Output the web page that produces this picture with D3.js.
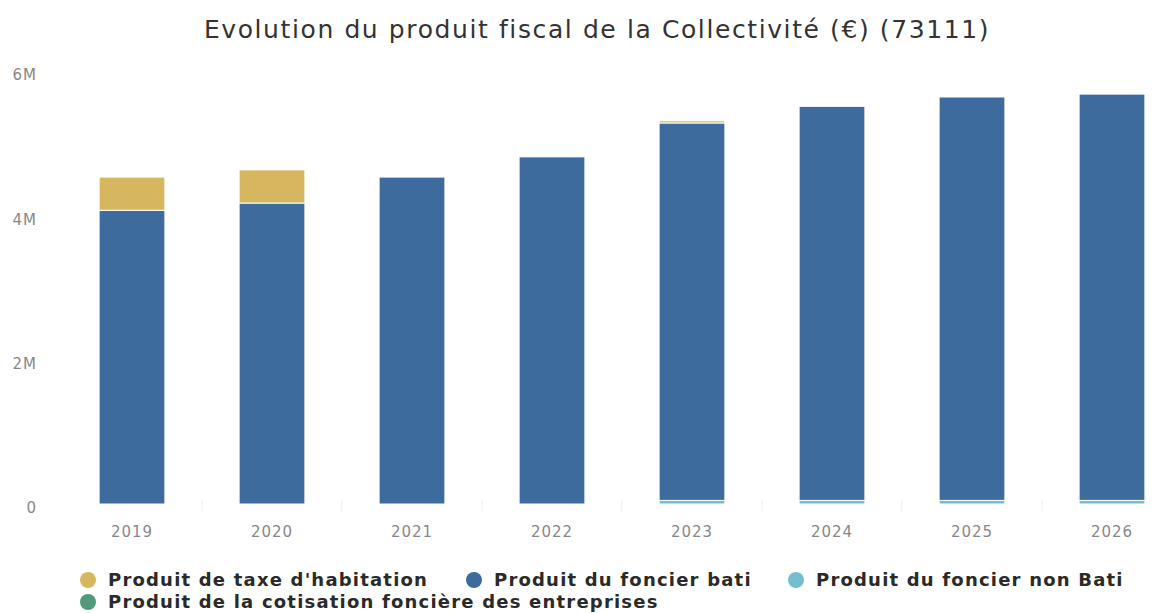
<!DOCTYPE html>
<html>
<head>
<meta charset="utf-8">
<script src="https://cdn.jsdelivr.net/npm/d3@7"></script>
<style>
	body { margin: 0; background: #fff; }
	svg { display: block; }
</style>
</head>
<body>
<svg id="chart" width="1173" height="613"></svg>
<script>
// data (values in M€)
const years = ["2019", "2020", "2021", "2022", "2023", "2024", "2025", "2026"];
const nonBati = [0, 0, 0, 0, 0.05, 0.05, 0.05, 0.05];
const bati = [4.07, 4.17, 4.53, 4.81, 5.23, 5.46, 5.59, 5.63];
const habitation = [0.46, 0.46, 0, 0, 0.03, 0, 0, 0];
const cfe = [0, 0, 0, 0, 0, 0, 0, 0];
const yTicks = [0, 2, 4, 6];

const seriesNames = ["Produit du foncier non Bati", "Produit du foncier bati", "Produit de taxe d'habitation", "Produit de la cotisation foncière des entreprises"];
const colors = {
	"Produit de taxe d'habitation": "#d6b65e",
	"Produit du foncier bati": "#3e6b9d",
	"Produit du foncier non Bati": "#74bfce",
	"Produit de la cotisation foncière des entreprises": "#4f9a7a"
};

let svg = d3.select('#chart');

let rows = years.map((y, i) => ({
	year: y,
	"Produit du foncier non Bati": nonBati[i],
	"Produit du foncier bati": bati[i],
	"Produit de taxe d'habitation": habitation[i],
	"Produit de la cotisation foncière des entreprises": cfe[i]
}));

let stack = d3.stack().keys(seriesNames);
let stacked = stack(rows);

let x = d3.scaleBand()
	.domain(years)
	.range([62, 1182])
	.paddingInner(0.53)
	.paddingOuter(0.265);

let y = d3.scaleLinear()
	.domain([0, 6])
	.range([504, 71]);

// title
svg.append('text')
	.attr('x', 597)
	.attr('y', 38)
	.attr('text-anchor', 'middle')
	.style('font-family', 'DejaVu Sans')
	.style('font-size', '25px')
	.style('letter-spacing', '1.6px')
	.style('fill', '#333')
	.text("Evolution du produit fiscal de la Collectivité (€) (73111)");

// faint ticks between categories
svg.append('g')
	.selectAll('line')
	.data(years.slice(1))
	.enter()
	.append('line')
	.attr('x1', d => x(d) - x.step() * 0.265)
	.attr('x2', d => x(d) - x.step() * 0.265)
	.attr('y1', 500)
	.attr('y2', 512)
	.style('stroke', '#f0f0f0');

// y axis labels
svg.append('g')
	.selectAll('text')
	.data(yTicks)
	.enter()
	.append('text')
	.attr('x', 37)
	.attr('y', d => y(d) + 4)
	.attr('dy', '0.35em')
	.attr('text-anchor', 'end')
	.style('font-family', 'DejaVu Sans')
	.style('font-size', '15px')
	.style('letter-spacing', '1px')
	.style('fill', '#888')
	.text(d => d === 0 ? '0' : d + 'M');

// bars
svg.append('g')
	.selectAll('g')
	.data(stacked)
	.enter()
	.append('g')
	.style('fill', d => colors[d.key])
	.selectAll('rect')
	.data(d => d)
	.enter()
	.filter(d => d[1] - d[0] > 0)
	.append('rect')
	.attr('x', d => x(d.data.year))
	.attr('width', x.bandwidth())
	.attr('y', d => y(d[1]))
	.attr('height', d => y(d[0]) - y(d[1]))
	.style('stroke', '#fff')
	.style('stroke-width', 1);

// x axis labels
svg.append('g')
	.selectAll('text')
	.data(years)
	.enter()
	.append('text')
	.attr('x', d => x(d) + x.bandwidth() / 2)
	.attr('y', 532)
	.attr('dy', '0.35em')
	.attr('text-anchor', 'middle')
	.style('font-family', 'DejaVu Sans')
	.style('font-size', '15px')
	.style('letter-spacing', '1px')
	.style('fill', '#888')
	.text(d => d);

// legend
const legendItems = [
	{ name: "Produit de taxe d'habitation", x: 88, y: 580 },
	{ name: "Produit du foncier bati", x: 474, y: 580 },
	{ name: "Produit du foncier non Bati", x: 796, y: 580 },
	{ name: "Produit de la cotisation foncière des entreprises", x: 88, y: 602 }
];

let legend = svg.append('g')
	.selectAll('g')
	.data(legendItems)
	.enter()
	.append('g')
	.attr('transform', d => `translate(${d.x},${d.y})`);

legend.append('circle')
	.attr('r', 8)
	.style('fill', d => colors[d.name]);

legend.append('text')
	.attr('x', 20)
	.attr('dy', '0.35em')
	.style('font-family', 'DejaVu Sans')
	.style('font-weight', 'bold')
	.style('font-size', '18px')
	.style('letter-spacing', '1.2px')
	.style('fill', '#2a2a2a')
	.text(d => d.name);
</script>
</body>
</html>
